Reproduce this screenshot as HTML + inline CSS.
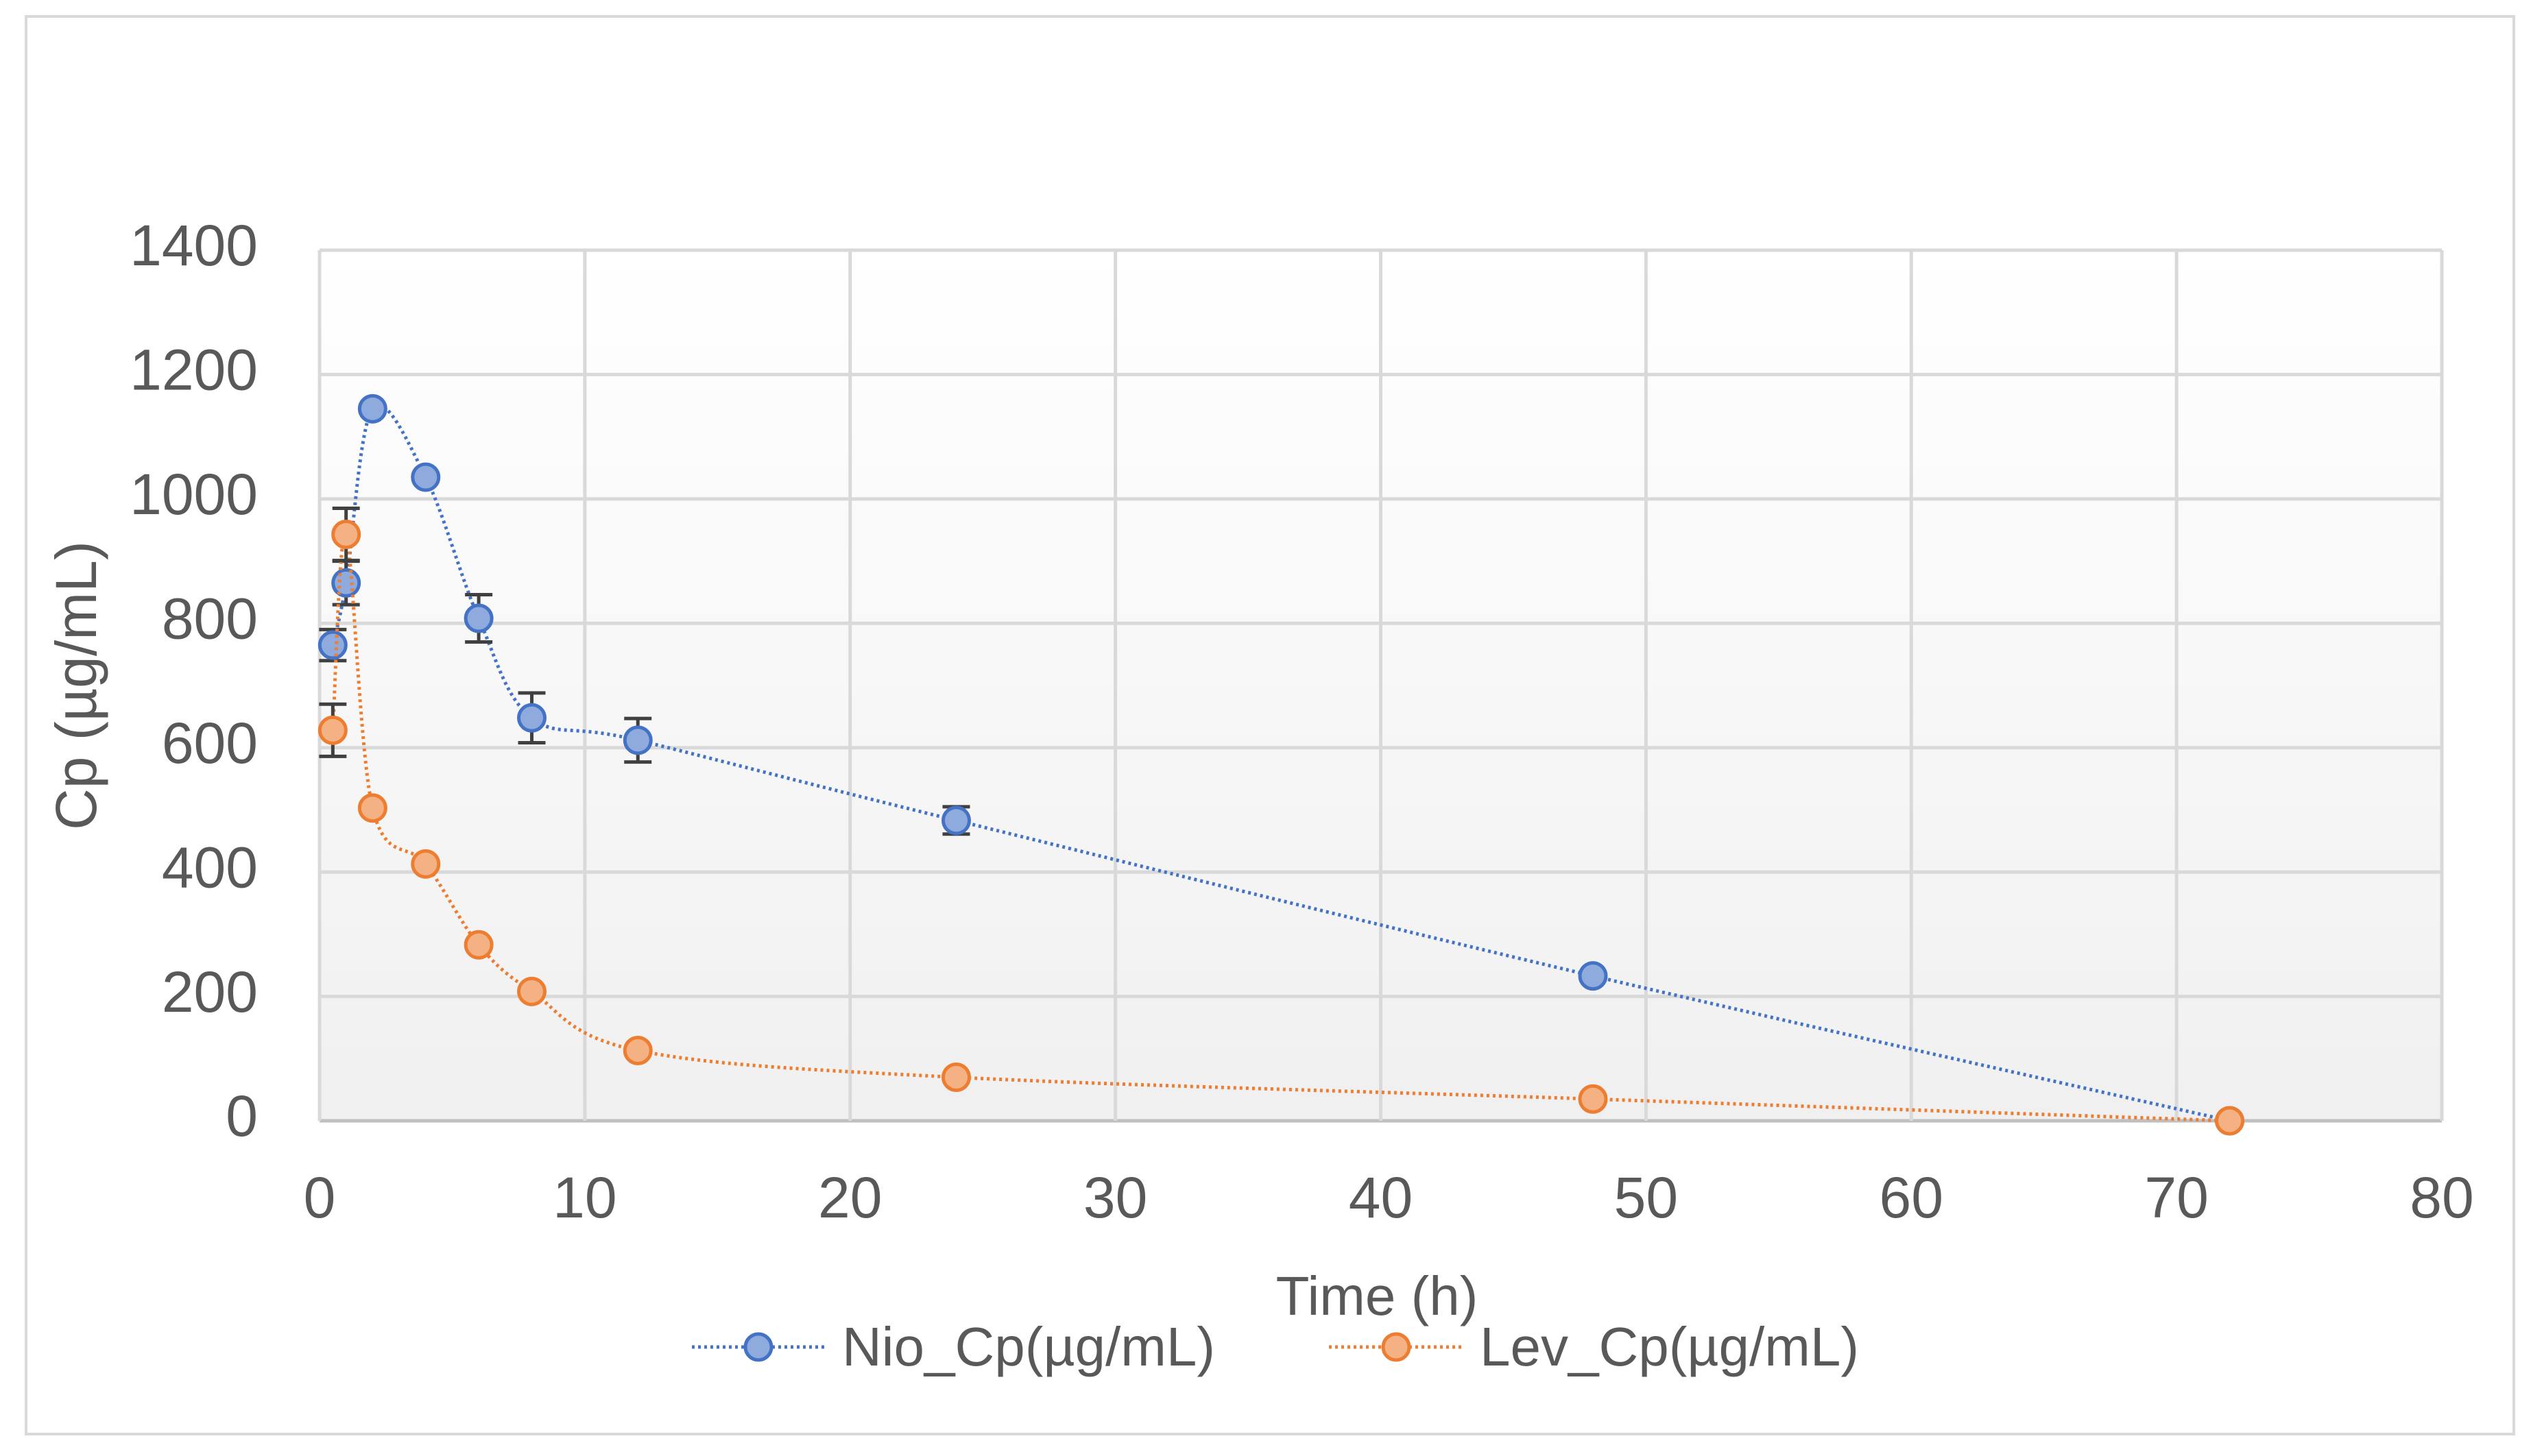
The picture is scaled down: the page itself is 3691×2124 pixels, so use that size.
<!DOCTYPE html>
<html><head><meta charset="utf-8"><style>
html,body{margin:0;padding:0;background:#fff;}
svg{display:block;font-family:"Liberation Sans",sans-serif;}
</style></head><body>
<svg id="chart" width="3691" height="2124" viewBox="0 0 3691 2124" xmlns="http://www.w3.org/2000/svg">
<defs>
<linearGradient id="bg" x1="0" y1="0" x2="0" y2="1">
<stop offset="0" stop-color="#ffffff"/><stop offset="1" stop-color="#f0f0f0"/>
</linearGradient>
</defs>
<rect x="38" y="24" width="3628" height="2068" fill="#fff" stroke="#d9d9d9" stroke-width="4"/>
<rect x="466" y="365" width="3095" height="1270" fill="url(#bg)"/>
<g id="grid"></g>
<g id="series"></g>
<text x="118" y="1000" transform="rotate(-90 118 1000)" text-anchor="middle" dominant-baseline="middle" font-size="84" fill="#595959">Cp (µg/mL)</text>
<text x="2008" y="1918" text-anchor="middle" font-size="80" fill="#595959">Time (h)</text>
<g>
<g>
<line x1="1009" y1="1965" x2="1203" y2="1965" stroke="#4472c4" stroke-width="5" stroke-dasharray="4 5"/>
<circle cx="1106" cy="1965" r="19" fill="#8faadc" stroke="#4472c4" stroke-width="5"/>
<text x="1228" y="1992" font-size="80" fill="#595959">Nio_Cp(µg/mL)</text>
</g>
<g>
<line x1="1938" y1="1965" x2="2132" y2="1965" stroke="#ed7d31" stroke-width="5" stroke-dasharray="4 5"/>
<circle cx="2036" cy="1965" r="19" fill="#f4b183" stroke="#ed7d31" stroke-width="5"/>
<text x="2158" y="1992" font-size="80" fill="#595959">Lev_Cp(µg/mL)</text>
</g>
</g>
</svg>
<script>
const times = [0.5, 1, 2, 4, 6, 8, 12, 24, 48, 72];
const nioValues = [765, 865, 1145, 1035, 808, 648, 612, 483, 233, 0];
const nioErrors = [25, 35, 10, 12, 38, 40, 35, 22, 12, 0];
const levValues = [628, 943, 503, 413, 283, 208, 113, 70, 35, 0];
const levErrors = [42, 42, 8, 8, 8, 8, 6, 5, 4, 0];
const xTicks = [0, 10, 20, 30, 40, 50, 60, 70, 80];
const yTicks = [0, 200, 400, 600, 800, 1000, 1200, 1400];

const NS = 'http://www.w3.org/2000/svg';
const X0 = 466, X1 = 3561, Y0 = 1635, Y1 = 365;
function xs(v){ return X0 + (v - 0) / 80 * (X1 - X0); }
function ys(v){ return Y0 - v / 1400 * (Y0 - Y1); }
function mk(tag, attrs, parent){ const e = document.createElementNS(NS, tag); for (const k in attrs) e.setAttribute(k, attrs[k]); parent.appendChild(e); return e; }

const grid = document.getElementById('grid');
yTicks.forEach(t => {
  const l = mk('line', {x1: X0, x2: X1, y1: ys(t), y2: ys(t), stroke: t === 0 ? '#bfbfbf' : '#d9d9d9', 'stroke-width': 5}, grid);
  
  
  const tx = mk('text', {x: 376, y: ys(t), 'text-anchor': 'end', 'dominant-baseline': 'middle', 'font-size': 84, fill: '#595959'}, grid);
  tx.textContent = t;
  
  
});
xTicks.forEach(t => {
  const l = mk('line', {x1: xs(t), x2: xs(t), y1: Y1, y2: Y0, stroke: '#d9d9d9', 'stroke-width': 5}, grid);
  
  
  const tx = mk('text', {x: xs(t), y: 1754, 'text-anchor': 'middle', 'dominant-baseline': 'middle', 'font-size': 84, fill: '#595959'}, grid);
  tx.textContent = t;
  
  
});

function smoothPath(pts){
  let d = 'M' + pts[0][0] + ',' + pts[0][1];
  for (let i = 0; i < pts.length - 1; i++) {
    const p0 = pts[Math.max(0, i - 1)], p1 = pts[i], p2 = pts[i + 1], p3 = pts[Math.min(pts.length - 1, i + 2)];
    const t = 0.5 / 3;
    const c1 = [p1[0] + (p2[0] - p0[0]) * t, p1[1] + (p2[1] - p0[1]) * t];
    const c2 = [p2[0] - (p3[0] - p1[0]) * t, p2[1] - (p3[1] - p1[1]) * t];
    d += ' C' + c1[0] + ',' + c1[1] + ' ' + c2[0] + ',' + c2[1] + ' ' + p2[0] + ',' + p2[1];
  }
  return d;
}

const seriesG = document.getElementById('series');
function drawSeries(name, vals, errs, stroke, fill){
  const g = mk('g', {}, seriesG);
  
  
  const pts = times.map((t, i) => [xs(t), ys(vals[i])]);
  const p = mk('path', {d: smoothPath(pts), fill: 'none', stroke: stroke, 'stroke-width': 5, 'stroke-dasharray': '4 5'}, g);
  
  
  times.forEach((t, i) => {
    if (errs[i] > 14) {
      const x = xs(t), yt = ys(vals[i] + errs[i]), yb = ys(vals[i] - errs[i]);
      const eb = mk('path', {d: `M${x},${yt} V${yb} M${x-20},${yt} H${x+20} M${x-20},${yb} H${x+20}`, stroke: '#404040', 'stroke-width': 5, fill: 'none'}, g);
      
      
    }
  });
  times.forEach((t, i) => {
    const c = mk('circle', {cx: xs(t), cy: ys(vals[i]), r: 19, fill: fill, stroke: stroke, 'stroke-width': 5}, g);
    
    
  });
}
drawSeries('nio', nioValues, nioErrors, '#4472c4', '#8faadc');
drawSeries('lev', levValues, levErrors, '#ed7d31', '#f4b183');
</script>
</body></html>
